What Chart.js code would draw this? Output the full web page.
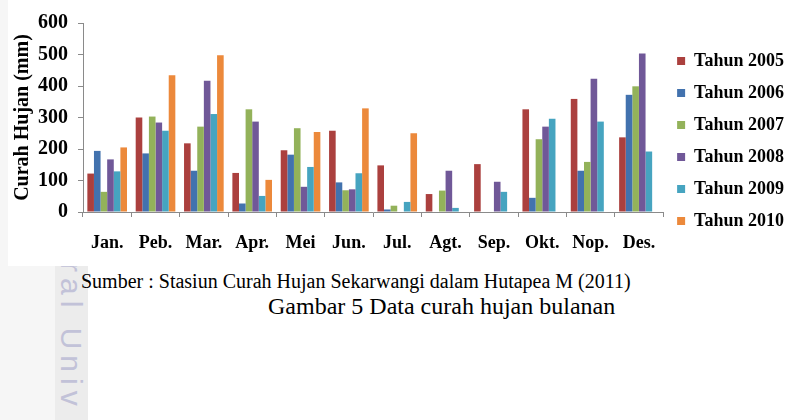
<!DOCTYPE html>
<html>
<head>
<meta charset="utf-8">
<script src="https://cdn.jsdelivr.net/npm/chart.js@4.4.0/dist/chart.umd.min.js"></script>
<style>
  html, body { margin: 0; padding: 0; background: #fff; }
  body { width: 795px; height: 420px; position: relative; overflow: hidden; font-family: "Liberation Serif", "Times New Roman", serif; }
  #leftband { position: absolute; left: 0; top: 0; width: 55px; height: 420px; background: #f6f6f6; }
  #stripe { position: absolute; left: 55px; top: 266px; width: 33px; height: 154px; background: #ececec; overflow: hidden; }
  #mark { position: absolute; left: -2px; top: -4px; writing-mode: vertical-rl; font: 30px "Liberation Sans", Arial, sans-serif; color: #c2c2d8; letter-spacing: 6px; white-space: nowrap; line-height: 36px; }
  #box { position: absolute; left: 8px; top: 0; width: 787px; height: 266px; background: #fff; }
  #sumber { position: absolute; left: 81px; top: 269px; font-size: 20px; line-height: 24px; color: #000; white-space: nowrap; }
  #caption { position: absolute; left: 268px; top: 292px; font-size: 24px; line-height: 28px; color: #000; white-space: nowrap; }
</style>
</head>
<body>
<div id="leftband"></div>
<div id="stripe"><div id="mark">ral Univ</div></div>
<div id="box"><canvas id="rainChart"></canvas></div>
<div id="sumber">Sumber : Stasiun Curah Hujan Sekarwangi dalam Hutapea M (2011)</div>
<div id="caption">Gambar 5 Data curah hujan bulanan</div>

<script>
const months = ["Jan.", "Peb.", "Mar.", "Apr.", "Mei", "Jun.", "Jul.", "Agt.", "Sep.", "Okt.", "Nop.", "Des."];

// curah hujan bulanan (mm)
const tahun2005 = [122, 300, 218, 124, 196, 258, 148, 57, 152, 326, 359, 237];
const tahun2006 = [194, 186, 131, 27, 182, 94, 8, 0, 0, 45, 131, 372];
const tahun2007 = [64, 303, 271, 326, 266, 69, 20, 68, 0, 231, 159, 399];
const tahun2008 = [167, 284, 417, 287, 80, 72, 0, 131, 96, 271, 423, 503];
const tahun2009 = [129, 258, 311, 51, 143, 123, 32, 13, 64, 296, 287, 192];
const tahun2010 = [205, 434, 498, 102, 254, 329, 250, null, null, null, null, null];

const seriesNames = ["Tahun 2005", "Tahun 2006", "Tahun 2007", "Tahun 2008", "Tahun 2009", "Tahun 2010"];
const seriesColors = ["#ab403e", "#4272ae", "#93b25a", "#705898", "#46a4c0", "#ec893b"];

const yMin = 0;
const yMax = 600;
const yStep = 100;

const serif = "'Liberation Serif', 'Times New Roman', serif";
const axisGray = "#8a8a8a";

const allSeries = [tahun2005, tahun2006, tahun2007, tahun2008, tahun2009, tahun2010];

const ctx = document.getElementById("rainChart").getContext("2d");
const chart = new Chart(ctx, {
  type: "bar",
  data: {
    labels: months,
    datasets: allSeries.map((vals, i) => ({
      label: seriesNames[i],
      data: vals,
      backgroundColor: seriesColors[i],
      borderWidth: 0,
      categoryPercentage: 0.82,
      barPercentage: 1.0
    }))
  },
  options: {
    responsive: true,
    maintainAspectRatio: false,
    animation: false,
    layout: { padding: { top: 23, right: 1, bottom: 7, left: 0 } },
    plugins: {
      tooltip: { enabled: false },
      legend: {
        position: "right",
        labels: {
          boxWidth: 8,
          boxHeight: 8,
          padding: 14,
          color: "#000",
          font: { family: serif, size: 18, weight: "bold" }
        }
      }
    },
    scales: {
      x: {
        offset: true,
        grid: { display: true, drawOnChartArea: false, offset: true, tickLength: 5, color: axisGray },
        border: { display: true, color: axisGray, width: 1 },
        ticks: { color: "#000", padding: 16, font: { family: serif, size: 18, weight: "bold" } },
        afterFit: (scale) => { scale.height = 47; }
      },
      y: {
        min: yMin,
        max: yMax,
        grid: { display: true, drawOnChartArea: false, tickLength: 5, color: axisGray },
        border: { display: true, color: axisGray, width: 1 },
        ticks: { stepSize: yStep, color: "#000", padding: 10, font: { family: serif, size: 20, weight: "bold" } },
        title: {
          display: true,
          text: "Curah Hujan (mm)",
          color: "#000",
          padding: { top: 3, bottom: 0 },
          font: { family: serif, size: 20, weight: "bold" }
        },
        afterFit: (scale) => { scale.width = 75; }
      }
    }
  }
});
</script>
</body>
</html>
